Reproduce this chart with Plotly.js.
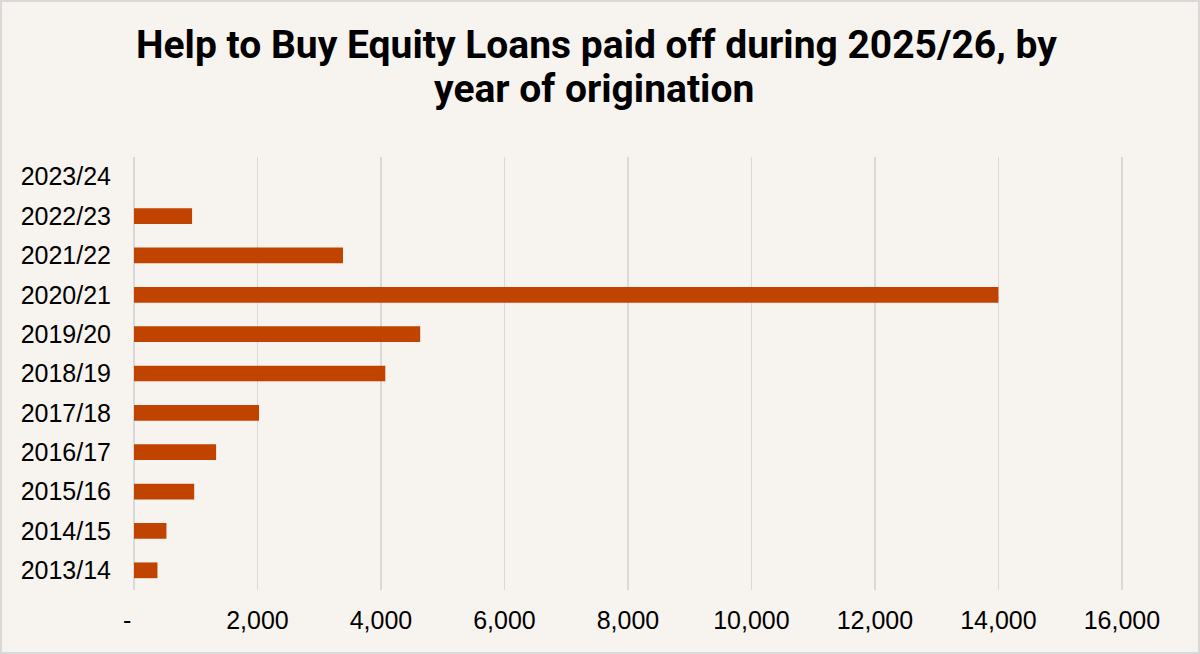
<!DOCTYPE html>
<html>
<head>
<meta charset="utf-8">
<script src="https://cdn.plot.ly/plotly-3.0.1.min.js"></script>
<style>
  html, body { margin: 0; padding: 0; background: #f7f3ee; }
  #chart { width: 1200px; height: 654px; box-sizing: border-box; border: 2px solid #d9d9d9; }
</style>
</head>
<body>
<div id="chart"></div>
<script>
// years of origination, bottom to top
var years = ['2013/14','2014/15','2015/16','2016/17','2017/18','2018/19','2019/20','2020/21','2021/22','2022/23','2023/24'];
// loans paid off during 2025/26
var paidOff = [380, 525, 975, 1330, 2025, 4070, 4635, 14000, 3385, 940, 0];

var xTicks = [0, 2000, 4000, 6000, 8000, 10000, 12000, 14000, 16000];
var xTickText = ['-\u00a0\u00a0', '2,000', '4,000', '6,000', '8,000', '10,000', '12,000', '14,000', '16,000'];

var titleLine1 = 'Help to Buy Equity Loans paid off during 2025/26, by';
var titleLine2 = 'year of origination';

var bg = '#f7f3ee';
var titleFont = {family: 'Roboto, Arial, sans-serif', size: 39, color: '#000', weight: 700};

var data = [{
  type: 'bar',
  orientation: 'h',
  y: years,
  x: paidOff,
  marker: {color: '#c04300'},
  hoverinfo: 'x+y'
}];

var layout = {
  width: 1196,
  height: 650,
  paper_bgcolor: bg,
  plot_bgcolor: bg,
  margin: {l: 132, r: 73, t: 155, b: 62},
  bargap: 0.6,
  showlegend: false,
  font: {family: '"Liberation Sans", Arial, sans-serif', size: 25, color: '#000'},
  xaxis: {
    range: [0, 16050],
    tickvals: xTicks,
    ticktext: xTickText,
    showgrid: true,
    gridcolor: '#d9d9d9',
    gridwidth: 1.5,
    zeroline: true,
    zerolinecolor: '#d9d9d9',
    zerolinewidth: 1.5,
    showline: false,
    ticks: '',
    ticklabelstandoff: 13,
    tickfont: {size: 25, color: '#000'},
    fixedrange: true
  },
  yaxis: {
    type: 'category',
    categoryorder: 'array',
    categoryarray: years,
    showgrid: false,
    zeroline: false,
    showline: false,
    ticks: '',
    ticklabelstandoff: 22,
    tickfont: {size: 25, color: '#000'},
    fixedrange: true
  },
  annotations: [
    {text: titleLine1, xref: 'paper', yref: 'paper', x: 0.467, y: 1.258, xanchor: 'center', yanchor: 'middle', showarrow: false, font: titleFont},
    {text: titleLine2, xref: 'paper', yref: 'paper', x: 0.464, y: 1.156, xanchor: 'center', yanchor: 'middle', showarrow: false, font: titleFont}
  ]
};

Plotly.newPlot('chart', data, layout, {displayModeBar: false, staticPlot: true});
</script>
</body>
</html>
